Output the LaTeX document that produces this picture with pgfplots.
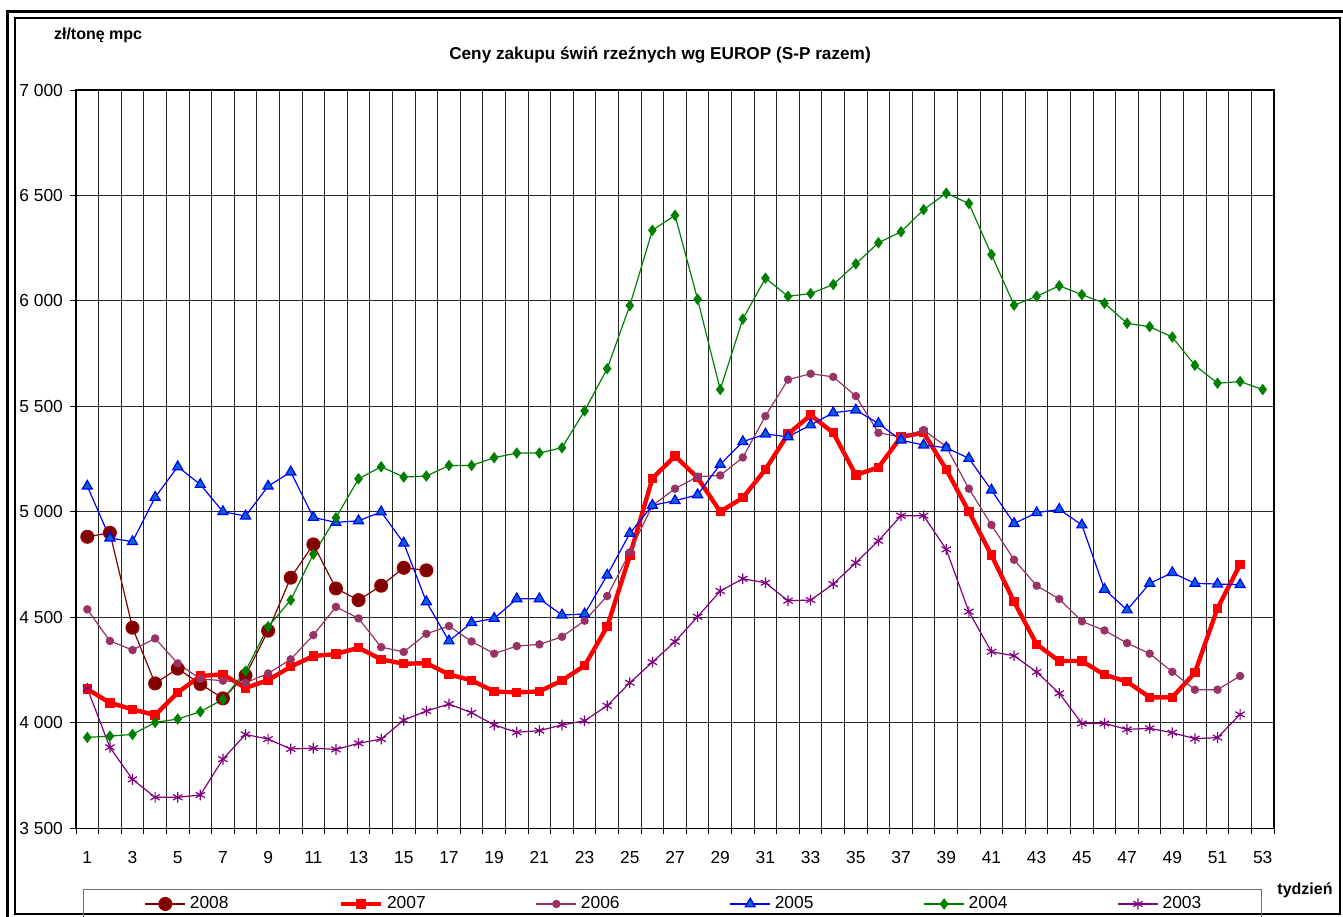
\documentclass[border=0pt]{standalone}
\usepackage{pgfplots}
\pgfplotsset{compat=1.18}
\usepackage{fontspec}
\setmainfont{Liberation Sans}
\definecolor{c2008}{RGB}{128,0,0}
\definecolor{c2007}{RGB}{255,0,0}
\definecolor{c2006}{RGB}{153,51,102}
\definecolor{c2005}{RGB}{0,0,255}
\definecolor{c2005f}{RGB}{0,102,204}
\definecolor{c2004}{RGB}{0,128,0}
\definecolor{c2003}{RGB}{128,0,128}
\begin{document}
\begin{tikzpicture}
\useasboundingbox (0,0) rectangle (671.5pt,-458pt);
\begin{axis}[
  at={(38pt,-414.15pt)}, anchor=south west,
  scale only axis, width=599pt, height=369.15pt,
  xmin=0.5, xmax=53.5, ymin=3500, ymax=7000,
  ytick={3500,4000,...,7000},
  yticklabels={3 500,4 000,4 500,5 000,5 500,6 000,6 500,7 000},
  xtick={0.5,1.5,...,53.5}, xticklabels={},
  extra x ticks={1,3,...,53},
  extra x tick labels={1,3,5,7,9,11,13,15,17,19,21,23,25,27,29,31,33,35,37,39,41,43,45,47,49,51,53},
  extra x tick style={major tick length=0pt, grid=none, xticklabel style={yshift=-8pt}},
  xtick pos=bottom, ytick pos=left,
  grid=major, grid style={black!85, line width=0.5pt},
  tick align=outside, major tick length=3pt,
  tick style={black, line width=0.5pt},
  axis line style={black, line width=0.6pt},
  ticklabel style={font=\fontsize{8.7}{10}\selectfont},
  clip=false,
  legend columns=6,
  legend style={draw=none, fill=none, at={(0.052,-0.1025)}, anchor=west,
    font=\fontsize{8.7}{10}\selectfont,
    /tikz/every even column/.append style={column sep=53pt}},
  legend image code/.code={\draw[mark repeat=2,mark phase=2,#1] plot coordinates {(0pt,0pt) (10pt,0pt) (20pt,0pt)};},
]
\addplot[c2008, line width=0.6pt, mark=*, mark size=3.2pt, mark options={fill=c2008, draw=c2008!80!red}] coordinates {
(1,4882)(2,4901)(3,4451)(4,4187)(5,4257)(6,4184)(7,4116)(8,4225)(9,4437)(10,4688)(11,4846)(12,4637)(13,4582)(14,4650)(15,4735)(16,4723)};
\addlegendentry{2008}
\addplot[c2007, line width=2.2pt, mark=square*, mark size=2.1pt, mark options={fill=c2007, line width=0.5pt}] coordinates {
(1,4160)(2,4095)(3,4064)(4,4037)(5,4144)(6,4222)(7,4230)(8,4165)(9,4203)(10,4266)(11,4317)(12,4326)(13,4356)(14,4301)(15,4280)(16,4283)(17,4230)(18,4201)(19,4149)(20,4144)(21,4149)(22,4201)(23,4271)(24,4456)(25,4792)(26,5159)(27,5265)(28,5162)(29,5001)(30,5067)(31,5201)(32,5369)(33,5459)(34,5375)(35,5175)(36,5211)(37,5356)(38,5375)(39,5201)(40,5001)(41,4795)(42,4574)(43,4372)(44,4293)(45,4293)(46,4228)(47,4195)(48,4121)(49,4121)(50,4238)(51,4543)(52,4751)};
\addlegendentry{2007}
\addplot[c2006, line width=0.6pt, mark=*, mark size=1.8pt, mark options={fill=c2006}] coordinates {
(1,4538)(2,4388)(3,4345)(4,4400)(5,4282)(6,4208)(7,4200)(8,4190)(9,4234)(10,4301)(11,4416)(12,4550)(13,4495)(14,4359)(15,4336)(16,4422)(17,4459)(18,4386)(19,4328)(20,4364)(21,4372)(22,4408)(23,4484)(24,4601)(25,4808)(26,5030)(27,5110)(28,5167)(29,5173)(30,5258)(31,5454)(32,5627)(33,5655)(34,5640)(35,5549)(36,5375)(37,5355)(38,5388)(39,5309)(40,5110)(41,4938)(42,4773)(43,4650)(44,4587)(45,4481)(46,4438)(47,4378)(48,4328)(49,4242)(50,4157)(51,4157)(52,4222)};
\addlegendentry{2006}
\addplot[c2005, line width=0.6pt, mark=triangle*, mark size=2.9pt, mark options={fill=c2005f, draw=c2005}] coordinates {
(1,5122)(2,4876)(3,4859)(4,5069)(5,5214)(6,5130)(7,5001)(8,4980)(9,5122)(10,5189)(11,4974)(12,4950)(13,4958)(14,5000)(15,4852)(16,4574)(17,4388)(18,4475)(19,4495)(20,4588)(21,4588)(22,4511)(23,4516)(24,4700)(25,4898)(26,5031)(27,5053)(28,5081)(29,5225)(30,5333)(31,5369)(32,5356)(33,5412)(34,5470)(35,5483)(36,5419)(37,5340)(38,5317)(39,5304)(40,5254)(41,5103)(42,4945)(43,4996)(44,5012)(45,4938)(46,4633)(47,4535)(48,4661)(49,4712)(50,4661)(51,4658)(52,4655)};
\addlegendentry{2005}
\addplot[c2004, line width=0.6pt, mark=diamond*, mark size=2.4pt, mark options={fill=c2004}] coordinates {
(1,3931)(2,3937)(3,3945)(4,4002)(5,4018)(6,4053)(7,4111)(8,4245)(9,4456)(10,4582)(11,4800)(12,4972)(13,5157)(14,5214)(15,5165)(16,5170)(17,5220)(18,5220)(19,5257)(20,5279)(21,5279)(22,5304)(23,5479)(24,5679)(25,5978)(26,6335)(27,6406)(28,6008)(29,5580)(30,5914)(31,6108)(32,6022)(33,6035)(34,6078)(35,6176)(36,6276)(37,6328)(38,6433)(39,6511)(40,6462)(41,6220)(42,5980)(43,6022)(44,6072)(45,6030)(46,5989)(47,5894)(48,5878)(49,5829)(50,5695)(51,5610)(52,5618)(53,5580)};
\addlegendentry{2004}
\addplot[c2003, line width=0.6pt, mark=asterisk, mark size=2.7pt, mark options={line width=0.6pt}] coordinates {
(1,4163)(2,3884)(3,3732)(4,3647)(5,3647)(6,3658)(7,3828)(8,3945)(9,3923)(10,3876)(11,3880)(12,3874)(13,3903)(14,3923)(15,4013)(16,4056)(17,4089)(18,4048)(19,3990)(20,3955)(21,3963)(22,3990)(23,4010)(24,4081)(25,4190)(26,4288)(27,4385)(28,4503)(29,4625)(30,4683)(31,4664)(32,4579)(33,4582)(34,4658)(35,4759)(36,4863)(37,4982)(38,4982)(39,4822)(40,4527)(41,4337)(42,4318)(43,4241)(44,4140)(45,3997)(46,3997)(47,3969)(48,3974)(49,3953)(50,3925)(51,3930)(52,4040)};
\addlegendentry{2003}
\end{axis}
% frames
\draw[line width=1.5pt] (3.75pt,-470pt) -- (3.75pt,-5.5pt) -- (690pt,-5.5pt);
\draw[line width=0.8pt] (7.5pt,-9pt) rectangle (670pt,-457pt);
\draw[black!55, line width=0.5pt] (41.5pt,-444.5pt) rectangle (630.5pt,-460pt);
% texts
\node[anchor=west, font=\bfseries\fontsize{8}{9.6}\selectfont] at (23.5pt,-17.5pt) {zł/tonę mpc};
\node[font=\bfseries\fontsize{8.6}{10}\selectfont] at (330pt,-27.5pt) {Ceny zakupu świń rzeźnych wg EUROP (S-P razem)};
\node[font=\bfseries\fontsize{8}{9.6}\selectfont] at (652.5pt,-445pt) {tydzień};
\end{tikzpicture}
\end{document}
